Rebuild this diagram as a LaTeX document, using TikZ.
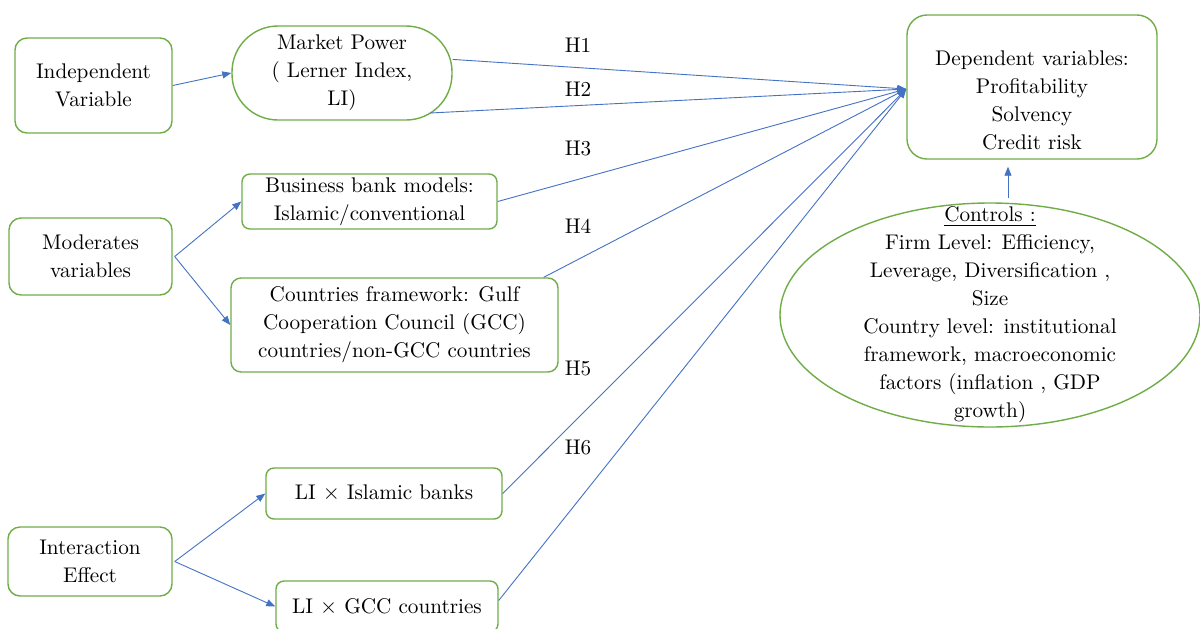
\documentclass[tikz,border=0pt]{standalone}
\usetikzlibrary{arrows.meta,shapes.geometric}
\definecolor{gr}{HTML}{70AD47}
\definecolor{bl}{HTML}{4472C4}
\begin{document}
\begin{tikzpicture}[x=0.5pt,y=-0.5pt,
  txt/.style={font=\rmfamily\fontsize{10.6}{14}\selectfont,align=center},
  box/.style={draw=gr,line width=0.7pt,rounded corners=#1,inner sep=0pt,txt},
  box/.default=5pt,
  arr/.style={draw=bl,line width=0.45pt,-{Triangle[length=4.5pt,width=3.5pt]}}]
\useasboundingbox (0,0) rectangle (1200,628);
\fill[white] (0,0) rectangle (1200,628);

\node[box=6pt,minimum width=78.5pt,minimum height=47.5pt] (ind) at (93.5,85.5) {Independent\\Variable};
\node[box=23pt,minimum width=110pt,minimum height=47pt] (mp) at (342,73) {Market Power\\( Lerner Index,\\LI)};
\node[box=10pt,minimum width=125pt,minimum height=72pt] (dep) at (1032,87) {};
\node[txt] (deptext) at (1032,100) {Dependent variables:\\Profitability\\Solvency\\Credit risk};
\node[draw=gr,line width=0.7pt,ellipse,minimum width=210pt,minimum height=112pt,inner sep=0pt] (ctrl) at (990,315) {};
\node[txt] (ctrltext) at (990,315) {\underline{Controls :}\\Firm Level: Efficiency,\\Leverage, Diversification ,\\Size\\Country level: institutional\\framework, macroeconomic\\factors (inflation , GDP\\growth)};
\node[box=6pt,minimum width=81.5pt,minimum height=38.5pt] (mod) at (90.5,256.5) {Moderates\\variables};
\node[box=4pt,minimum width=127.5pt,minimum height=27.5pt] (bus) at (369.5,201.5) {Business bank models:\\Islamic/conventional};
\node[box=5pt,minimum width=163.5pt,minimum height=47pt] (cty) at (394.5,325) {Countries framework: Gulf\\Cooperation Council (GCC)\\countries/non-GCC countries};
\node[box=6pt,minimum width=82pt,minimum height=34.5pt] (int) at (90,561.5) {Interaction\\Effect};
\node[box=4pt,minimum width=118pt,minimum height=25.5pt] (isl) at (384,493.5) {LI $\times$ Islamic banks};
\node[box=4pt,minimum width=111pt,minimum height=25.5pt] (gcc) at (387,606.5) {LI $\times$ GCC countries};

\coordinate (hub) at ([yshift=-1pt]dep.west);

\draw[arr] (ind.east) -- (mp.west);
\draw[arr] (mp.7) -- (hub);
\draw[arr] ([shift={(88,40)}]mp.center) -- (hub);
\draw[arr] (bus.east) -- (hub);
\draw[arr] ([shift={(-15,0)}]cty.north east) -- (hub);
\draw[arr] (isl.east) -- (hub);
\draw[arr] ([shift={(0,-6)}]gcc.east) -- (hub);
\draw[arr] ([shift={(18,-4)}]ctrl.north) -- ([shift={(-24,7)}]dep.south);

\draw[arr] ([xshift=1pt]mod.east) -- (bus.west);
\draw[arr] ([xshift=1pt]mod.east) -- (cty.west);
\draw[arr] ([xshift=1pt]int.east) -- (isl.west);
\draw[arr] ([xshift=1pt]int.east) -- (gcc.west);

\node[txt] (h1) at (578,45) {H1};
\node[txt] (h2) at (578,89) {H2};
\node[txt] (h3) at (578,148) {H3};
\node[txt] (h4) at (578,226) {H4};
\node[txt] (h5) at (578,368) {H5};
\node[txt] (h6) at (578,447) {H6};
\end{tikzpicture}
\end{document}
